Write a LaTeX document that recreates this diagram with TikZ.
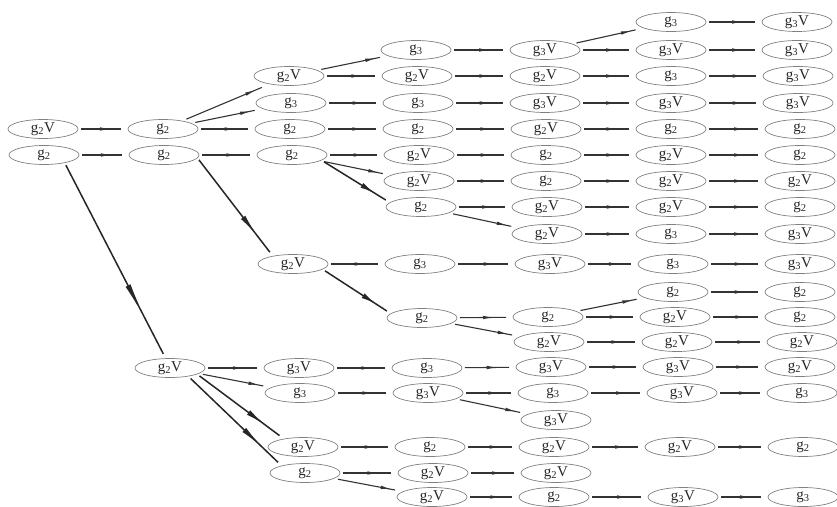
\documentclass[tikz,border=0pt]{standalone}
\usepackage{fontspec}
\setmainfont{Liberation Serif}
\usetikzlibrary{shapes,arrows.meta,decorations.markings}

\newcommand{\gsub}[1]{g\textsubscript{#1}}

\tikzset{
  gn/.style={ellipse, draw=black!50, line width=0.7pt, minimum width=70pt, minimum height=19pt,
    inner sep=0pt, outer sep=3pt, text=black!85, font=\fontsize{15}{17}\selectfont},
  go/.style={draw=black!80, line width=1.1pt, shorten >=4pt, postaction={decorate},
    decoration={markings, mark=at position #1 with {\arrow{Latex[length=11pt,width=3.5pt]}}}},
  go/.default=0.68,
  slant/.style={go=0.88},
  jump/.style={draw=black!85, line width=1.5pt, shorten >=2pt, postaction={decorate},
    decoration={markings, mark=at position 0.8 with {\arrow{Latex[length=#1,width=5.5pt]}}}},
  jump/.default=20pt
}

\begin{document}
\begin{tikzpicture}[x=1pt,y=-1pt]
\useasboundingbox (0,0) rectangle (837,506);

% roots and first step
\node[gn] (a1) at (43,129) {\gsub2V};
\node[gn] (a2) at (44,155) {\gsub2};
\node[gn] (b1) at (163,129) {\gsub2};
\node[gn] (b2) at (164,155) {\gsub2};
\node[gn] (b3) at (170,368) {\gsub2V};

% second step
\node[gn] (c1) at (289,76) {\gsub2V};
\node[gn] (c2) at (291,103) {\gsub3};
\node[gn] (c3) at (290,129) {\gsub2};
\node[gn] (c4) at (292,155) {\gsub2};
\node[gn] (c5) at (293,264) {\gsub2V};
\node[gn] (c6) at (299,368) {\gsub3V};
\node[gn] (c7) at (300,393) {\gsub3};
\node[gn] (c8) at (303,447) {\gsub2V};
\node[gn] (c9) at (305,473) {\gsub2};

% third step
\node[gn] (d1) at (416,50) {\gsub3};
\node[gn] (d2) at (417,76) {\gsub2V};
\node[gn] (d3) at (418,103) {\gsub3};
\node[gn] (d4) at (418,129) {\gsub2};
\node[gn] (d5) at (419,155) {\gsub2V};
\node[gn] (d6) at (419,181) {\gsub2V};
\node[gn] (d7) at (421,207) {\gsub2};
\node[gn] (d8) at (420,264) {\gsub3};
\node[gn] (d9) at (422,318) {\gsub2};
\node[gn] (d10) at (427,368) {\gsub3};
\node[gn] (d11) at (428,393) {\gsub3V};
\node[gn] (d12) at (430,447) {\gsub2};
\node[gn] (d13) at (433,473) {\gsub2V};
\node[gn] (d14) at (432,497) {\gsub2V};

% fourth step
\node[gn] (e1) at (545,50) {\gsub3V};
\node[gn] (e2) at (545,76) {\gsub2V};
\node[gn] (e3) at (545,103) {\gsub3V};
\node[gn] (e4) at (546,129) {\gsub2V};
\node[gn] (e5) at (546,155) {\gsub2};
\node[gn] (e6) at (546,181) {\gsub2};
\node[gn] (e7) at (547,207) {\gsub2V};
\node[gn] (e8) at (547,234) {\gsub2V};
\node[gn] (e9) at (550,264) {\gsub3V};
\node[gn] (e10) at (548,317) {\gsub2};
\node[gn] (e11) at (549,342) {\gsub2V};
\node[gn] (e12) at (551,367) {\gsub3V};
\node[gn] (e13) at (553,393) {\gsub3};
\node[gn] (e14) at (556,420) {\gsub3V};
\node[gn] (e15) at (554,447) {\gsub2V};
\node[gn] (e16) at (556,473) {\gsub2V};
\node[gn] (e17) at (554,497) {\gsub2};

% fifth step
\node[gn] (f1) at (671,22) {\gsub3};
\node[gn] (f2) at (671,50) {\gsub3V};
\node[gn] (f3) at (671,76) {\gsub3};
\node[gn] (f4) at (671,103) {\gsub3V};
\node[gn] (f5) at (671,129) {\gsub2};
\node[gn] (f6) at (671,155) {\gsub2V};
\node[gn] (f7) at (671,181) {\gsub2V};
\node[gn] (f8) at (671,207) {\gsub2V};
\node[gn] (f9) at (671,234) {\gsub3};
\node[gn] (f10) at (673,264) {\gsub3};
\node[gn] (f11) at (673,292) {\gsub2};
\node[gn] (f12) at (675,317) {\gsub2V};
\node[gn] (f13) at (677,342) {\gsub2V};
\node[gn] (f14) at (678,367) {\gsub3V};
\node[gn] (f15) at (682,393) {\gsub3V};
\node[gn] (f16) at (680,447) {\gsub2V};
\node[gn] (f17) at (683,497) {\gsub3V};

% last step
\node[gn] (g1) at (797,22) {\gsub3V};
\node[gn] (g2) at (797,50) {\gsub3V};
\node[gn] (g3) at (798,76) {\gsub3V};
\node[gn] (g4) at (798,103) {\gsub3V};
\node[gn] (g5) at (800,129) {\gsub2};
\node[gn] (g6) at (800,155) {\gsub2};
\node[gn] (g7) at (800,181) {\gsub2V};
\node[gn] (g8) at (800,207) {\gsub2};
\node[gn] (g9) at (800,234) {\gsub3V};
\node[gn] (g10) at (800,264) {\gsub3V};
\node[gn] (g11) at (800,292) {\gsub2};
\node[gn] (g12) at (800,317) {\gsub2};
\node[gn] (g13) at (802,342) {\gsub2V};
\node[gn] (g14) at (800,367) {\gsub2V};
\node[gn] (g15) at (802,393) {\gsub3};
\node[gn] (g16) at (803,447) {\gsub2};
\node[gn] (g17) at (803,497) {\gsub3};

% transitions
\draw[go] (a1) -- (b1);
\draw[go] (a2) -- (b2);
\draw[jump=36pt] (a2.-25) -- (b3.115);

\draw[slant] (b1) -- (c1);
\draw[slant] (b1) -- (c2);
\draw[go] (b1) -- (c3);
\draw[go] (b2) -- (c4);
\draw[jump=22pt] (b2.-8) -- (c5.155);
\draw[go] (b3) -- (c6);
\draw[slant] (b3) -- (c7);
\draw[jump] (b3.-15) -- (c8.155);
\draw[jump=24pt] (b3.-27) -- (c9.160);

\draw[slant] (c1) -- (d1);
\draw[go] (c1) -- (d2);
\draw[go] (c2) -- (d3);
\draw[go] (c3) -- (d4);
\draw[go] (c4) -- (d5);
\draw[slant] (c4) -- (d6);
\draw[jump=15pt] (c4.-12) -- (d7.170);
\draw[go] (c5) -- (d8);
\draw[jump=15pt] (c5.-12) -- (d9.170);
\draw[go] (c6) -- (d10);
\draw[go] (c7) -- (d11);
\draw[go] (c8) -- (d12);
\draw[go] (c9) -- (d13);
\draw[slant] (c9) -- (d14);

\draw[go] (d1) -- (e1);
\draw[go] (d2) -- (e2);
\draw[go] (d3) -- (e3);
\draw[go] (d4) -- (e4);
\draw[go] (d5) -- (e5);
\draw[go] (d6) -- (e6);
\draw[go] (d7) -- (e7);
\draw[slant] (d7) -- (e8);
\draw[go] (d8) -- (e9);
\draw[go] (d9) -- (e10);
\draw[slant] (d9) -- (e11);
\draw[go] (d10) -- (e12);
\draw[go] (d11) -- (e13);
\draw[slant] (d11) -- (e14);
\draw[go] (d12) -- (e15);
\draw[go] (d13) -- (e16);
\draw[go] (d14) -- (e17);

\draw[slant] (e1) -- (f1);
\draw[go] (e1) -- (f2);
\draw[go] (e2) -- (f3);
\draw[go] (e3) -- (f4);
\draw[go] (e4) -- (f5);
\draw[go] (e5) -- (f6);
\draw[go] (e6) -- (f7);
\draw[go] (e7) -- (f8);
\draw[go] (e8) -- (f9);
\draw[go] (e9) -- (f10);
\draw[slant] (e10) -- (f11);
\draw[go] (e10) -- (f12);
\draw[go] (e11) -- (f13);
\draw[go] (e12) -- (f14);
\draw[go] (e13) -- (f15);
\draw[go] (e15) -- (f16);
\draw[go] (e17) -- (f17);

\draw[go] (f1) -- (g1);
\draw[go] (f2) -- (g2);
\draw[go] (f3) -- (g3);
\draw[go] (f4) -- (g4);
\draw[go] (f5) -- (g5);
\draw[go] (f6) -- (g6);
\draw[go] (f7) -- (g7);
\draw[go] (f8) -- (g8);
\draw[go] (f9) -- (g9);
\draw[go] (f10) -- (g10);
\draw[go] (f11) -- (g11);
\draw[go] (f12) -- (g12);
\draw[go] (f13) -- (g13);
\draw[go] (f14) -- (g14);
\draw[go] (f15) -- (g15);
\draw[go] (f16) -- (g16);
\draw[go] (f17) -- (g17);
\end{tikzpicture}
\end{document}
